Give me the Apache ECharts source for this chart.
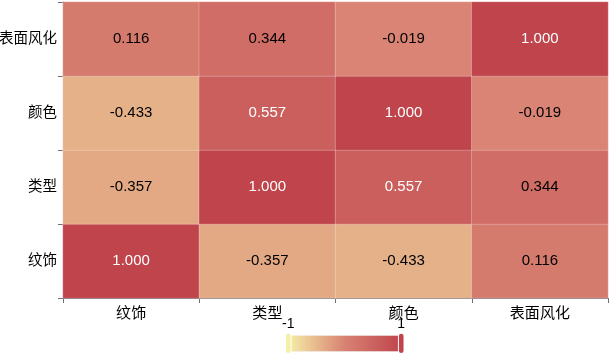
<!DOCTYPE html>
<html>
<head>
<meta charset="UTF-8">
<title>heatmap</title>
<script src="https://cdn.jsdelivr.net/npm/echarts@6/dist/echarts.min.js"></script>
<style>
  body { margin: 0; background: #fff; }
  #graph { width: 612px; height: 356px; }
</style>
</head>
<body>
<div id="graph"></div>
<script>
// categories (x left->right, y bottom->top)
var xCats = ['纹饰', '类型', '颜色', '表面风化'];
var yCats = ['纹饰', '类型', '颜色', '表面风化'];
// correlation matrix rows follow yCats, columns follow xCats
var rowWenshi = [1.000, -0.357, -0.433, 0.116];
var rowLeixing = [-0.357, 1.000, 0.557, 0.344];
var rowYanse = [-0.433, 0.557, 1.000, -0.019];
var rowFenghua = [0.116, 0.344, -0.019, 1.000];
var rows = [rowWenshi, rowLeixing, rowYanse, rowFenghua];

var data = [];
rows.forEach(function (row, yi) {
  row.forEach(function (v, xi) {
    data.push({
      value: [xi, yi, v],
      label: { color: v > 0.5 ? '#fff' : '#000' }
    });
  });
});

var chart = echarts.init(document.getElementById('graph'), null, { renderer: 'canvas' });
chart.setOption({
  animation: false,
  textStyle: { fontFamily: 'Liberation Sans, Noto Sans CJK SC, sans-serif' },
  grid: { left: 63, right: 4, top: 2, bottom: 58, outerBoundsMode: 'none', containLabel: false },
  xAxis: {
    type: 'category',
    data: xCats,
    axisLine: { lineStyle: { color: '#6e7079' } },
    axisTick: { show: true },
    axisLabel: { color: '#000', fontSize: 15, margin: 8 }
  },
  yAxis: {
    type: 'category',
    data: yCats,
    axisLine: { lineStyle: { color: '#6e7079' } },
    axisTick: { show: true },
    axisLabel: { color: '#000', fontSize: 14.5, margin: 6 }
  },
  visualMap: {
    min: -1,
    max: 1,
    calculable: true,
    orient: 'horizontal',
    left: 267,
    bottom: -13,
    itemWidth: 16,
    itemHeight: 113,
    precision: 0,
    textStyle: { color: '#000', fontSize: 14 },
    inRange: { color: ['#f6efa6', '#d88273', '#bf444c'] }
  },
  series: [{
    type: 'heatmap',
    data: data,
    label: {
      show: true,
      fontSize: 15,
      formatter: function (p) { return p.value[2].toFixed(3); }
    },
    itemStyle: { borderColor: 'rgba(255,255,255,0.25)', borderWidth: 1 }
  }]
});
</script>
</body>
</html>
